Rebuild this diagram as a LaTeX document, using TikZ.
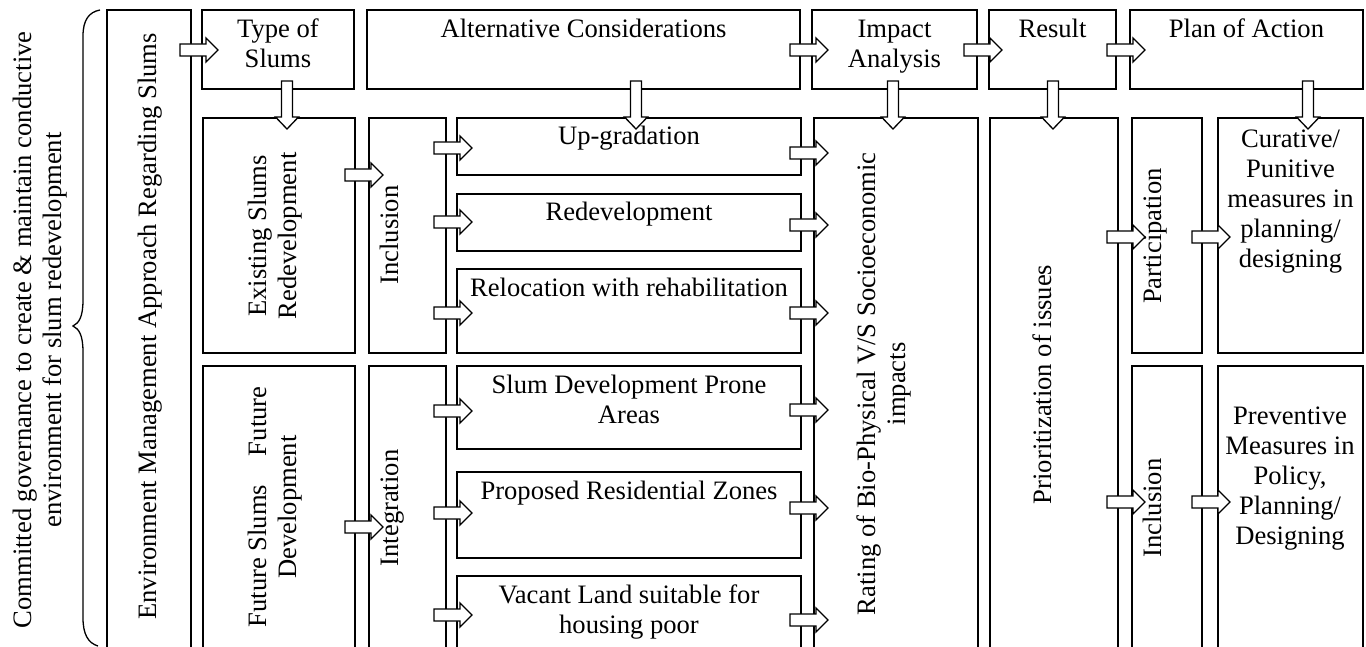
\documentclass[tikz,border=0pt]{standalone}
\usepackage{fontspec}
\setmainfont{Liberation Serif}
\usetikzlibrary{calc}
\tikzset{
  box/.style={draw, line width=1.3pt, rectangle, inner sep=0pt, outer sep=0pt},
  lbl/.style={inner sep=0pt, outer sep=0pt, align=center, font=\fontsize{26.6}{30}\selectfont},
  rlbl/.style={lbl, rotate=90, anchor=center},
  tlbl/.style={lbl, anchor=north},
  rarr/.pic={\filldraw[fill=white, line width=1.3pt, line join=miter]
     (0,-6)--(26,-6)--(26,-12)--(38,0)--(26,12)--(26,6)--(0,6)--cycle;},
  darr/.pic={\filldraw[fill=white, line width=1.3pt, line join=miter]
     (-5.5,0)--(-5.5,36)--(-11.5,36)--(0,48)--(11.5,36)--(5.5,36)--(5.5,0)--cycle;},
  bracepath/.style={line width=1.3pt}
}
\newcommand\mybox[5]{\node[box, minimum width={(#4-#2)*1pt}, minimum height={(#5-#3)*1pt}] (#1) at ({(#2+#4)/2},{(#3+#5)/2}) {};}
\begin{document}
\begin{tikzpicture}[x=1pt, y=-1pt]
\useasboundingbox (0,0) rectangle (1366,647);
\clip (0,0) rectangle (1366,647);
% top row
\mybox{env}{107}{10}{191}{665}
\mybox{type}{202}{10}{354}{89}
\mybox{alt}{367}{10}{800}{89}
\mybox{impact}{812}{10}{977}{89}
\mybox{result}{989}{10}{1116}{89}
\mybox{plan}{1130}{10}{1363}{89}
% lower columns
\mybox{existing}{203}{118}{355}{353}
\mybox{future}{203}{366}{355}{665}
\mybox{inclA}{369}{118}{446}{353}
\mybox{integ}{369}{366}{446}{665}
\mybox{upg}{457}{118}{801}{175}
\mybox{redev}{457}{194}{801}{251}
\mybox{reloc}{457}{269}{801}{353}
\mybox{sdp}{457}{366}{801}{449}
\mybox{prz}{457}{472}{801}{558}
\mybox{vac}{457}{576}{801}{665}
\mybox{rating}{814}{118}{978}{665}
\mybox{prior}{990}{118}{1118}{665}
\mybox{part}{1132}{118}{1202}{353}
\mybox{cur}{1218}{118}{1363}{353}
\mybox{inclB}{1132}{366}{1202}{665}
\mybox{prev}{1218}{366}{1363}{665}
% brace
\draw[bracepath] (100,10) .. controls (89,12) and (83,20) .. (83,36) -- (83,300)
  .. controls (83,317) and (79,323) .. (73,326)
  .. controls (79,329) and (83,335) .. (83,352) -- (83,618)
  .. controls (83,634) and (88,643) .. (98,646);
% labels
\node[rlbl] (bracetxt) at (40,330) {Committed governance to create \& maintain conductive\\environment for slum redevelopment};
\node[rlbl] (envtxt) at (150,326.5) {Environment Management Approach Regarding Slums};
\node[tlbl] (typetxt) at (278,17) {\strut Type of\\Slums};
\node[tlbl] (alttxt) at (583.5,17) {\strut Alternative Considerations};
\node[tlbl] (imptxt) at (894.5,17) {\strut Impact\\Analysis};
\node[tlbl] (restxt) at (1052.5,17) {\strut Result};
\node[tlbl] (plantxt) at (1246.5,17) {\strut Plan of Action};
\node[rlbl] (exttxt) at (274.6,236) {Existing Slums\\Redevelopment};
\node[rlbl] (futtxt) at (275,507) {Future Slums\hspace{1.08em}Future\\Development};
\node[rlbl] (incAtxt) at (389.2,235) {Inclusion};
\node[rlbl] (integtxt) at (392.1,508) {Integration};
\node[tlbl] (upgtxt) at (629,124) {\strut Up-gradation};
\node[tlbl] (redtxt) at (629,200) {\strut Redevelopment};
\node[tlbl] (reltxt) at (629,275) {\strut Relocation with rehabilitation};
\node[tlbl] (sdptxt) at (629,372) {\strut Slum Development Prone\\Areas};
\node[tlbl] (prztxt) at (629,478) {\strut Proposed Residential Zones};
\node[tlbl] (vactxt) at (629,582) {\strut Vacant Land suitable for\\housing poor};
\node[rlbl] (rattxt) at (883.8,384) {Rating of Bio-Physical V/S Socioeconomic\\impacts};
\node[rlbl] (pritxt) at (1042.6,384.5) {Prioritization of issues};
\node[rlbl] (parttxt) at (1155.5,236) {Participation};
\node[rlbl] (incBtxt) at (1152.6,508) {Inclusion};
\node[tlbl] (curtxt) at (1290.5,126.6) {\strut Curative/\\Punitive\\measures in\\planning/\\designing};
\node[tlbl] (prevtxt) at (1290,403.6) {\strut Preventive\\Measures in\\Policy,\\Planning/\\Designing};
% horizontal block arrows
\pic at (180,50) {rarr};
\pic at (790,50) {rarr};
\pic at (964,50) {rarr};
\pic at (1107,50) {rarr};
\pic at (345,175) {rarr};
\pic at (345,527) {rarr};
\foreach \yy in {148,222,313,411,513,615} \pic at (434,\yy) {rarr};
\foreach \yy in {153,225,313,410,508,620} \pic at (790,\yy) {rarr};
\pic at (1107,237) {rarr};
\pic at (1192,237) {rarr};
\pic at (1107,502) {rarr};
\pic at (1192,502) {rarr};
% down block arrows
\foreach \xx in {287,636,893,1053,1308} \pic at (\xx,81) {darr};
\end{tikzpicture}
\end{document}
